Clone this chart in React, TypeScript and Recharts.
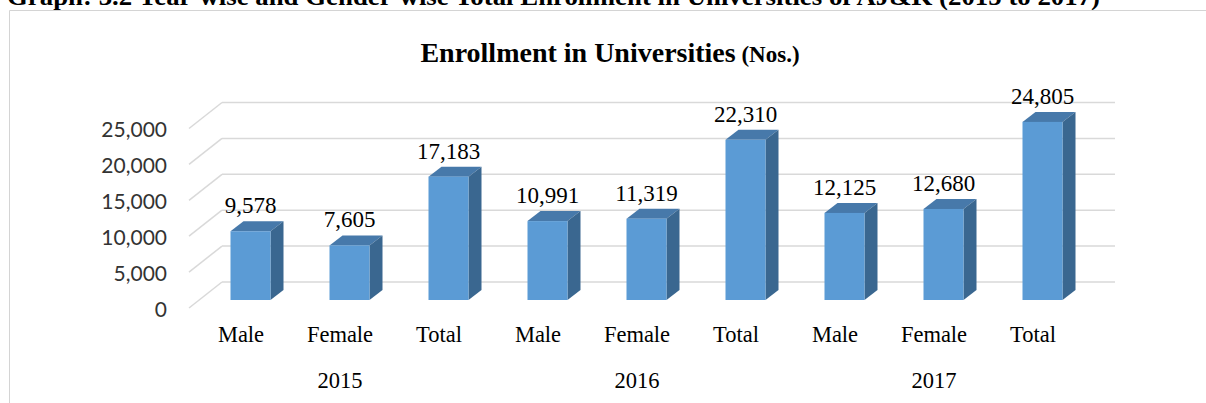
import * as React from 'react';
import { Bar, BarChart, CartesianGrid, LabelList, XAxis, YAxis } from 'recharts';

// enrollment figures per year, in the order of genderGroups
const years = ['2015', '2016', '2017'];
const genderGroups = ['Male', 'Female', 'Total'];
const enrollment2015 = [9578, 7605, 17183];
const enrollment2016 = [10991, 11319, 22310];
const enrollment2017 = [12125, 12680, 24805];
const yTicks = [0, 5000, 10000, 15000, 20000, 25000];

const byYear = [enrollment2015, enrollment2016, enrollment2017];
const data = years.flatMap((year, yi) =>
  genderGroups.map((group, gi) => ({
    id: `${year}-${group}`,
    group,
    year,
    value: byYear[yi][gi],
  }))
);

const W = 1206;
const H = 403;
const PLOT_LEFT = 200.5;
const PLOT_RIGHT = 1091.5;
const PLOT_TOP = 120.5;
const PLOT_BOTTOM = 300;
const Y_AXIS_W = 40;
const AXIS_H1 = 40;
const AXIS_H2 = 45;

// fake 3d offsets
const DX = 13;
const DY = 10;
const WALL_DX = 21.5;
const WALL_DY = 18;
const FRONT_DY = 8;

const FRONT = '#5b9bd5';
const TOP = '#4779aa';
const SIDE = '#3a6790';
const GRID = '#d9d9d9';
const SERIF = "'Liberation Serif', 'Times New Roman', serif";

function Bar3D(props: any) {
  const { x, y, width, height } = props;
  if (height == null) return null;
  return (
    <g>
      <path
        d={`M${x},${y} L${x + DX},${y - DY} L${x + width + DX},${y - DY} L${x + width},${y} Z`}
        fill={TOP}
      />
      <path
        d={`M${x + width},${y} L${x + width + DX},${y - DY} L${x + width + DX},${y + height - DY} L${x + width},${y + height} Z`}
        fill={SIDE}
      />
      <rect x={x} y={y} width={width} height={height} fill={FRONT} />
    </g>
  );
}

function GridLine(props: any) {
  const { x1, x2, y1 } = props;
  return (
    <g key={props.key}>
      <line
        x1={x1 - 11.5}
        y1={y1 + FRONT_DY}
        x2={x1 + WALL_DX}
        y2={y1 - WALL_DY}
        stroke={GRID}
        strokeWidth={1.5}
      />
      <line
        x1={x1 + WALL_DX}
        y1={y1 - WALL_DY}
        x2={x2 + 23.5}
        y2={y1 - WALL_DY}
        stroke={GRID}
        strokeWidth={1.5}
      />
    </g>
  );
}

function YTick(props: any) {
  const { y, payload } = props;
  return (
    <text
      x={PLOT_LEFT - 33.5}
      y={y + FRONT_DY}
      textAnchor="end"
      dominantBaseline="central"
      fontFamily="Lato, 'Open Sans', sans-serif"
      fontSize={21}
      fill="#333"
    >
      {Number(payload.value).toLocaleString('en-US')}
    </text>
  );
}

function GroupTick(props: any) {
  const { x, payload } = props;
  return (
    <text x={x - 9} y={PLOT_BOTTOM + 42} textAnchor="middle" fontFamily={SERIF} fontSize={22.5} fill="#000">
      {payload.value}
    </text>
  );
}

function YearTick(props: any) {
  const { x, payload, index } = props;
  if (index % 3 !== 1) return null;
  return (
    <text x={x - 9} y={PLOT_BOTTOM + 88} textAnchor="middle" fontFamily={SERIF} fontSize={22.5} fill="#000">
      {payload.value}
    </text>
  );
}

function ValueLabel(props: any) {
  const { x, y, width, value } = props;
  return (
    <text x={x + width / 2} y={y - 18} textAnchor="middle" fontFamily={SERIF} fontSize={23} fill="#000">
      {Number(value).toLocaleString('en-US')}
    </text>
  );
}

export default function App() {
  return (
    <div style={{ position: 'relative', width: W, height: H, overflow: 'hidden', background: '#fff' }}>
      <style>{'body{margin:0}'}</style>
      <svg width={W} height={H} style={{ position: 'absolute', left: 0, top: 0 }}>
        <text
          x={7}
          y={5}
          fontFamily={SERIF}
          fontWeight="bold"
          fontSize={26}
          textLength={1093}
          lengthAdjust="spacingAndGlyphs"
          fill="#000"
        >
          Graph: 3.2 Year-wise and Gender-wise Total Enrollment in Universities of AJ&amp;K (2015 to 2017)
        </text>
        <path d={`M9.5,${H} L9.5,10.5 L${W},10.5`} fill="none" stroke="#d4d4d4" strokeWidth={1} />
        <text x={610} y={62} textAnchor="middle" fontFamily={SERIF} fontWeight="bold" fill="#000">
          <tspan fontSize={28}>Enrollment in Universities</tspan>
          <tspan fontSize={23}> (Nos.)</tspan>
        </text>
      </svg>
      <div style={{ position: 'absolute', left: 0, top: 0 }}>
        <BarChart
          width={W}
          height={H}
          data={data}
          margin={{
            top: PLOT_TOP,
            left: PLOT_LEFT - Y_AXIS_W,
            right: W - PLOT_RIGHT,
            bottom: H - PLOT_BOTTOM - AXIS_H1 - AXIS_H2,
          }}
          barSize={40}
        >
          <CartesianGrid vertical={false} horizontal={GridLine} />
          <XAxis
            dataKey="group"
            interval={0}
            height={AXIS_H1}
            axisLine={false}
            tickLine={false}
            tick={<GroupTick />}
          />
          <XAxis
            xAxisId="year"
            dataKey="year"
            interval={0}
            height={AXIS_H2}
            axisLine={false}
            tickLine={false}
            tick={<YearTick />}
          />
          <YAxis
            width={Y_AXIS_W}
            domain={[0, 25000]}
            ticks={yTicks}
            axisLine={false}
            tickLine={false}
            tick={<YTick />}
          />
          <Bar dataKey="value" shape={<Bar3D />} isAnimationActive={false}>
            <LabelList dataKey="value" content={<ValueLabel />} />
          </Bar>
        </BarChart>
      </div>
    </div>
  );
}
